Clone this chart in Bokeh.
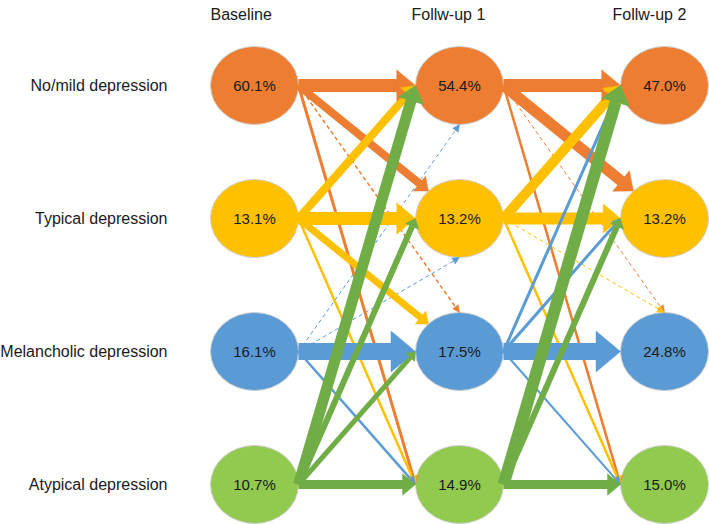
import math
from bokeh.plotting import figure
from bokeh.models import Range1d, ColumnDataSource
from bokeh.core.properties import value
from bokeh.embed import file_html
from bokeh.resources import INLINE

# ---------------- data ----------------
stages = ["Baseline", "Follw-up 1", "Follw-up 2"]
states = ["No/mild depression", "Typical depression", "Melancholic depression", "Atypical depression"]
baseline_pct = [60.1, 13.1, 16.1, 10.7]
followup1_pct = [54.4, 13.2, 17.5, 14.9]
followup2_pct = [47.0, 13.2, 24.8, 15.0]

# relative transition flow (arrow weight), rows = from state, cols = to state
flow_base_to_fu1 = [
    [13, 8, 1.5, 3],
    [8, 13, 7, 2.5],
    [1, 1, 17, 2.5],
    [11, 6, 5, 9],
]
flow_fu1_to_fu2 = [
    [13, 11, 1, 2.5],
    [10, 12, 1, 2.5],
    [3, 3, 17, 2],
    [12, 6, 0, 9],
]

# ---------------- styles ----------------
node_colors = ["#ED7D31", "#FFC000", "#5B9BD5", "#92C94F"]
arrow_colors = ["#ED7D31", "#FFC000", "#5B9BD5", "#70AD47"]
end_anchor_1 = [["L", "TL", "T", "L"], ["L", "L", "TL", "L"], ["B", "B", "L", "L"], ["L", "L", "L", "L"]]
end_anchor_2 = [["L", "TL", "T", "L"], ["L", "L", "T", "L"], ["L", "L", "L", "L"], ["L", "L", "L", "L"]]

X0, DX, Y0, DY = 254, 205, 85, 133
RX, RY = 44, 39
FONT = value("Liberation Sans")
W, H_ = 709, 524

p = figure(width=W, height=H_, output_backend="svg", toolbar_location=None,
           x_range=Range1d(0, W), y_range=Range1d(H_, 0), min_border=0)
p.axis.visible = False
p.grid.visible = False
p.outline_line_color = None
p.background_fill_color = "white"


def center(i, j):
    return X0 + i * DX, Y0 + j * DY


def anchor(i, j, name):
    cx, cy = center(i, j)
    k = 0.7071
    return {
        "L": (cx - RX, cy), "R": (cx + RX, cy),
        "T": (cx, cy - RY), "B": (cx, cy + RY),
        "TL": (cx - RX * k, cy - RY * k), "BL": (cx - RX * k, cy + RY * k),
    }[name]


# nodes
all_pct = [baseline_pct, followup1_pct, followup2_pct]
nx, ny, nc, nt = [], [], [], []
for i, pcts in enumerate(all_pct):
    for j, v in enumerate(pcts):
        cx, cy = center(i, j)
        nx.append(cx); ny.append(cy); nc.append(node_colors[j]); nt.append(f"{v:.1f}%")
nodes = ColumnDataSource(dict(x=nx, y=ny, c=nc, t=nt))
p.ellipse(x="x", y="y", width=2 * RX, height=2 * RY, fill_color="c", line_color="#cfcfcf",
          line_width=1, source=nodes)

# arrows
seg = dict(x0=[], y0=[], x1=[], y1=[], c=[], w=[])
dseg = dict(x0=[], y0=[], x1=[], y1=[], c=[], w=[])
heads = dict(xs=[], ys=[], c=[])
for stage, (flows, anchors) in enumerate([(flow_base_to_fu1, end_anchor_1), (flow_fu1_to_fu2, end_anchor_2)]):
    for a in range(4):
        for b in range(4):
            w = flows[a][b]
            if w <= 0:
                continue
            sx, sy = anchor(stage, a, "R")
            ex, ey = anchor(stage + 1, b, anchors[a][b])
            dx, dy = ex - sx, ey - sy
            d = math.hypot(dx, dy)
            ux, uy = dx / d, dy / d
            nxp, nyp = -uy, ux
            dashed = w <= 1.5
            if dashed:
                H, Lh, lw = 7, 7, w
            else:
                H = max(9, 2.4 * w)
                Lh = max(8, 0.6 * H)
                lw = w
            bx, by = ex - ux * Lh, ey - uy * Lh
            target = dseg if dashed else seg
            target["x0"].append(sx); target["y0"].append(sy)
            target["x1"].append(bx + ux * 0.5); target["y1"].append(by + uy * 0.5)
            target["c"].append(arrow_colors[a]); target["w"].append(lw)
            heads["xs"].append([ex, bx + nxp * H / 2, bx - nxp * H / 2])
            heads["ys"].append([ey, by + nyp * H / 2, by - nyp * H / 2])
            heads["c"].append(arrow_colors[a])

p.segment(x0="x0", y0="y0", x1="x1", y1="y1", line_color="c", line_width="w",
          line_dash="4 3", source=ColumnDataSource(dseg))
p.segment(x0="x0", y0="y0", x1="x1", y1="y1", line_color="c", line_width="w",
          line_cap="butt", source=ColumnDataSource(seg))
p.patches(xs="xs", ys="ys", fill_color="c", line_color="c", line_width=0.5,
          source=ColumnDataSource(heads))

# labels
p.text(x="x", y="y", text="t", text_align="center", text_baseline="middle",
       text_font=FONT, text_font_size="15px", text_color="#1a1a1a", source=nodes)

row_y = [center(0, j)[1] for j in range(4)]
p.text(x=[167] * 4, y=row_y, text=states, text_align="right", text_baseline="middle",
       text_font=FONT, text_font_size="16px", text_color="#1a1a1a")

header_offsets = [-44, -48, -52]
hx = [center(i, 0)[0] + header_offsets[i] for i in range(3)]
p.text(x=hx, y=[14] * 3, text=stages, text_align="left", text_baseline="middle",
       text_font=FONT, text_font_size="16px", text_color="#1a1a1a")

open("out.html", "w").write(file_html(p, INLINE))
